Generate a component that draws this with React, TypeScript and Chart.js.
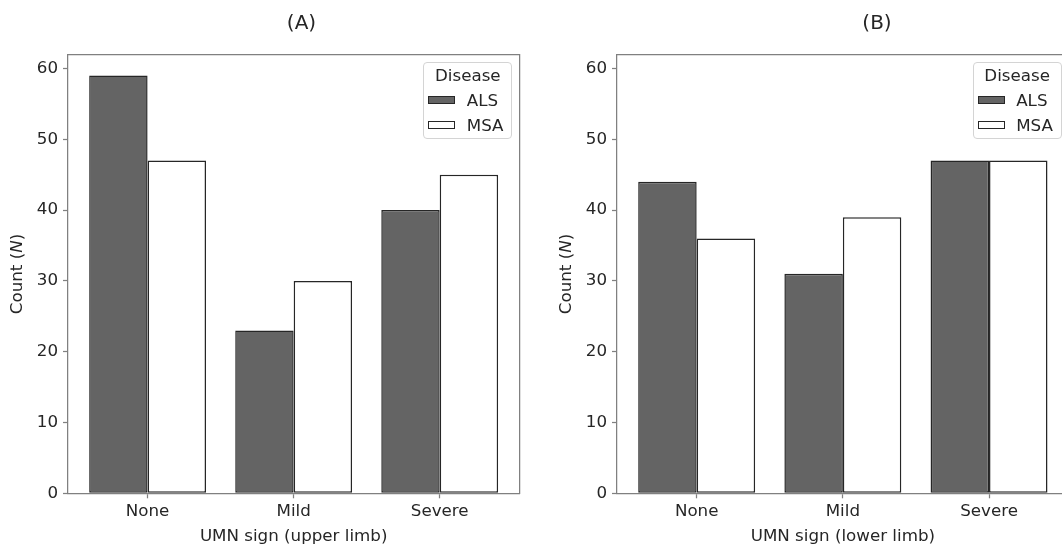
import React, { useEffect, useRef } from "react";
import { Chart, registerables } from "chart.js";

Chart.register(...registerables);

// ---------- data ----------
const categories = ["None", "Mild", "Severe"];
const seriesNames = ["ALS", "MSA"];
const upperALS = [59, 23, 40];
const upperMSA = [47, 30, 45];
const lowerALS = [44, 31, 47];
const lowerMSA = [36, 39, 47];
const yTicks = [0, 10, 20, 30, 40, 50, 60];
const yMax = 61.95;
const xMin = -0.545;
const xMax = 2.545;
const panelTitles = ["(A)", "(B)"];
const xTitles = ["UMN sign (upper limb)", "UMN sign (lower limb)"];
const yTitleParts = ["Count (", "N", ")"];
const legendTitle = "Disease";

// ---------- style ----------
const FONT = "'DejaVu Sans', sans-serif";
const FS = 16.7;
const TEXT = "#262626";
const SPINE = "#808080";
const EDGE = "#262626";
const FILLS = ["#646464", "#ffffff"];

const CANVAS_H = 560;
const PLOT_TOP = 54.7;
const PLOT_BOTTOM = 493.3;

const panels = [
  { left: 0, width: 603, plotLeft: 68, plotRight: 519.3, title: panelTitles[0], xTitle: xTitles[0], als: upperALS, msa: upperMSA },
  { left: 549, width: 656, plotLeft: 68, plotRight: 1068.7 - 549, title: panelTitles[1], xTitle: xTitles[1], als: lowerALS, msa: lowerMSA },
];

const yTitlePlugin = {
  id: "yTitleItalic",
  afterDraw(chart: any) {
    const { ctx, chartArea } = chart;
    const cy = (chartArea.top + chartArea.bottom) / 2;
    ctx.save();
    ctx.translate(18, cy);
    ctx.rotate(-Math.PI / 2);
    ctx.fillStyle = TEXT;
    ctx.textBaseline = "middle";
    ctx.textAlign = "left";
    const fonts = [`${FS}px ${FONT}`, `italic ${FS}px ${FONT}`, `${FS}px ${FONT}`];
    const widths = yTitleParts.map((t, i) => {
      ctx.font = fonts[i];
      return ctx.measureText(t).width;
    });
    const total = widths.reduce((a, b) => a + b, 0);
    let x = -total / 2;
    yTitleParts.forEach((t, i) => {
      ctx.font = fonts[i];
      ctx.fillText(t, x, 0);
      x += widths[i];
    });
    ctx.restore();
  },
};

function Panel({ p }: { p: (typeof panels)[number] }) {
  const canvasRef = useRef<HTMLCanvasElement | null>(null);
  const legendRef = useRef<HTMLDivElement | null>(null);

  useEffect(() => {
    const canvas = canvasRef.current;
    if (!canvas) return;
    const values = [p.als, p.msa];
    const chart = new Chart(canvas, {
      type: "bar",
      data: {
        datasets: seriesNames.map((name, si) => ({
          label: name,
          data: values[si].map((v, i) => ({ x: i, y: v })),
          backgroundColor: FILLS[si],
          borderColor: EDGE,
          borderWidth: 1.5,
          borderSkipped: false,
          categoryPercentage: 0.8,
          barPercentage: 1.0,
        })),
      },
      options: {
        animation: false,
        responsive: false,
        devicePixelRatio: 1,
        layout: { padding: 0, autoPadding: false },
        plugins: {
          legend: { display: false },
          tooltip: { enabled: false },
          title: {
            display: true,
            text: p.title,
            color: TEXT,
            font: { family: FONT, size: 20, weight: "normal", lineHeight: 1.2 },
            padding: { top: 11.5, bottom: PLOT_TOP - 11.5 - 24 },
          },
        },
        scales: {
          x: {
            type: "linear",
            position: "bottom",
            min: xMin,
            max: xMax,
            offset: false,
            grid: { display: true, offset: false, drawOnChartArea: false, drawTicks: true, tickLength: 5, tickColor: SPINE, tickWidth: 1.25 },
            border: { display: true, color: SPINE, width: 1.25 },
            ticks: {
              color: TEXT,
              font: { family: FONT, size: FS },
              padding: 3,
              autoSkip: false,
              maxRotation: 0,
              callback: (v: any) => categories[v as number] ?? "",
            },
            title: {
              display: true,
              text: p.xTitle,
              color: TEXT,
              font: { family: FONT, size: FS, lineHeight: 1.2 },
              padding: { top: 0, bottom: 13 },
            },
            afterBuildTicks: (s: any) => {
              s.ticks = categories.map((_, i) => ({ value: i }));
            },
            afterFit: (s: any) => {
              s.height = CANVAS_H - PLOT_BOTTOM;
            },
          },
          y: {
            type: "linear",
            position: "left",
            min: 0,
            max: yMax,
            grid: { display: true, drawOnChartArea: false, drawTicks: true, tickLength: 5, tickColor: SPINE, tickWidth: 1.25 },
            border: { display: true, color: SPINE, width: 1.25 },
            ticks: {
              color: TEXT,
              font: { family: FONT, size: FS },
              padding: 5,
            },
            afterBuildTicks: (s: any) => {
              s.ticks = yTicks.map((v) => ({ value: v }));
            },
            afterFit: (s: any) => {
              s.width = p.plotLeft;
            },
          },
          y2: {
            type: "linear",
            position: "right",
            grid: { display: false },
            border: { display: true, color: SPINE, width: 1.25 },
            ticks: { display: false },
            afterFit: (s: any) => {
              s.width = p.width - p.plotRight;
            },
          },
          x2: {
            type: "linear",
            position: "top",
            grid: { display: false },
            border: { display: true, color: SPINE, width: 1.25 },
            ticks: { display: false },
            afterFit: (s: any) => {
              s.height = 0;
            },
          },
        },
      } as any,
      plugins: [yTitlePlugin],
    });

    const lg = legendRef.current;
    if (lg) {
      const ca = chart.chartArea;
      lg.style.left = `${p.left + ca.right - 7 - 89}px`;
      lg.style.top = `${ca.top + 7}px`;
    }

    return () => chart.destroy();
  }, [p]);

  return (
    <>
      <canvas
        ref={canvasRef}
        width={p.width}
        height={CANVAS_H}
        style={{ position: "absolute", left: p.left, top: 0, width: p.width, height: CANVAS_H }}
      />
      <div
        ref={legendRef}
        style={{
          position: "absolute",
          width: 89,
          height: 77,
          boxSizing: "border-box",
          border: "1px solid #d4d4d4",
          borderRadius: 4,
          background: "rgba(255,255,255,0.85)",
          fontFamily: FONT,
          fontSize: FS,
          color: TEXT,
        }}
      >
        <div style={{ position: "absolute", left: 0, right: 0, top: 2.5, height: 20, lineHeight: "20px", textAlign: "center" }}>
          {legendTitle}
        </div>
        {seriesNames.map((name, i) => (
          <div key={name} style={{ position: "absolute", left: 0, top: 27.5 + i * 25, height: 20, width: "100%" }}>
            <div
              style={{
                position: "absolute",
                left: 4,
                top: 6,
                width: 27,
                height: 8,
                boxSizing: "border-box",
                border: `1px solid ${EDGE}`,
                background: FILLS[i],
              }}
            />
            <div style={{ position: "absolute", left: 42.5, top: 0, lineHeight: "20px" }}>{name}</div>
          </div>
        ))}
      </div>
    </>
  );
}

export default function App() {
  return (
    <div
      style={{
        position: "fixed",
        left: 0,
        top: 0,
        width: 1062,
        height: 545,
        overflow: "hidden",
        background: "#ffffff",
      }}
    >
      {panels.map((p, i) => (
        <Panel key={i} p={p} />
      ))}
    </div>
  );
}
